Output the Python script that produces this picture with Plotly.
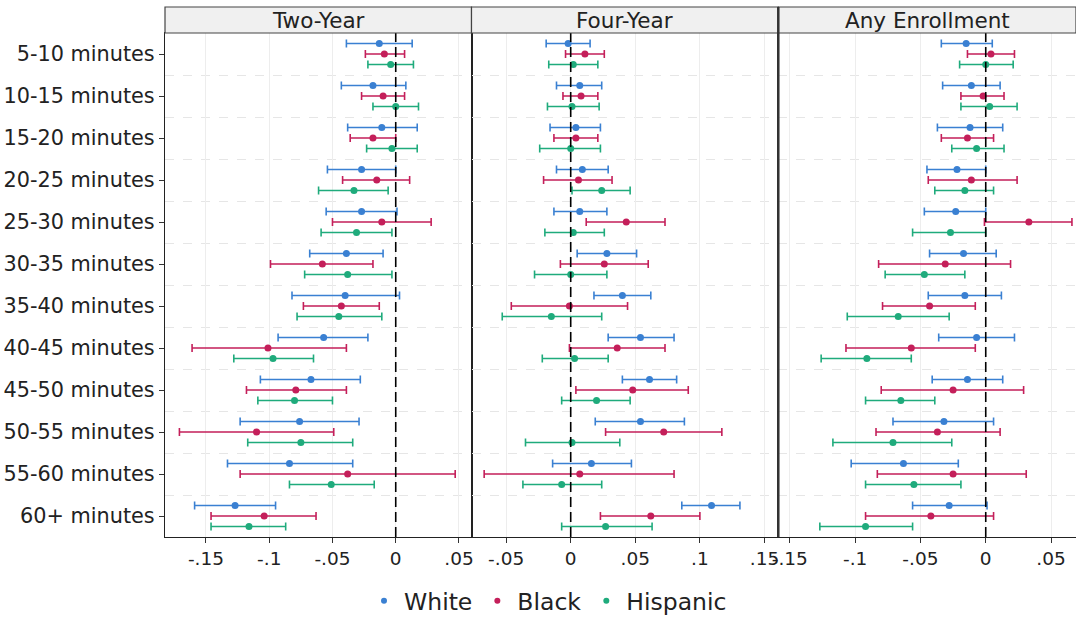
import numpy as np
import plotly.graph_objects as go
from plotly.subplots import make_subplots

categories = ["5-10 minutes", "10-15 minutes", "15-20 minutes", "20-25 minutes",
              "25-30 minutes", "30-35 minutes", "35-40 minutes", "40-45 minutes",
              "45-50 minutes", "50-55 minutes", "55-60 minutes", "60+ minutes"]
panels = ["Two-Year", "Four-Year", "Any Enrollment"]
groups = ["White", "Black", "Hispanic"]

# Two-Year
two_white_est = [-0.013, -0.018, -0.011, -0.027, -0.027, -0.039, -0.040, -0.057, -0.067, -0.076, -0.084, -0.127]
two_white_lo = [-0.039, -0.043, -0.038, -0.054, -0.055, -0.068, -0.082, -0.093, -0.107, -0.123, -0.133, -0.159]
two_white_hi = [0.013, 0.008, 0.017, 0.000, 0.001, -0.010, 0.003, -0.022, -0.028, -0.029, -0.034, -0.095]
two_black_est = [-0.009, -0.010, -0.018, -0.015, -0.011, -0.058, -0.043, -0.101, -0.079, -0.110, -0.038, -0.104]
two_black_lo = [-0.024, -0.027, -0.036, -0.042, -0.050, -0.099, -0.073, -0.161, -0.118, -0.171, -0.123, -0.146]
two_black_hi = [0.007, 0.007, 0.000, 0.011, 0.028, -0.018, -0.013, -0.039, -0.039, -0.049, 0.047, -0.063]
two_hisp_est = [-0.004, 0.000, -0.003, -0.033, -0.031, -0.038, -0.045, -0.097, -0.080, -0.075, -0.051, -0.116]
two_hisp_lo = [-0.022, -0.018, -0.023, -0.061, -0.059, -0.072, -0.078, -0.128, -0.109, -0.117, -0.084, -0.146]
two_hisp_hi = [0.014, 0.018, 0.017, -0.006, -0.003, -0.003, -0.011, -0.065, -0.050, -0.034, -0.017, -0.087]

# Four-Year
four_white_est = [-0.002, 0.007, 0.004, 0.009, 0.007, 0.028, 0.040, 0.054, 0.061, 0.054, 0.016, 0.109]
four_white_lo = [-0.019, -0.011, -0.016, -0.011, -0.013, 0.005, 0.018, 0.029, 0.040, 0.019, -0.014, 0.086]
four_white_hi = [0.015, 0.024, 0.023, 0.029, 0.028, 0.051, 0.062, 0.080, 0.082, 0.088, 0.047, 0.131]
four_black_est = [0.011, 0.008, 0.004, 0.006, 0.043, 0.026, -0.001, 0.036, 0.048, 0.072, 0.007, 0.062]
four_black_lo = [-0.004, -0.006, -0.013, -0.021, 0.012, -0.008, -0.046, -0.001, 0.004, 0.027, -0.067, 0.023]
four_black_hi = [0.026, 0.021, 0.021, 0.032, 0.073, 0.060, 0.044, 0.073, 0.091, 0.117, 0.080, 0.100]
four_hisp_est = [0.002, 0.001, 0.000, 0.024, 0.002, 0.000, -0.015, 0.003, 0.020, 0.001, -0.007, 0.027]
four_hisp_lo = [-0.017, -0.018, -0.024, 0.001, -0.020, -0.028, -0.053, -0.022, -0.007, -0.035, -0.037, -0.007]
four_hisp_hi = [0.021, 0.022, 0.023, 0.046, 0.026, 0.028, 0.024, 0.029, 0.046, 0.038, 0.024, 0.063]

# Any Enrollment
any_white_est = [-0.015, -0.011, -0.012, -0.022, -0.023, -0.017, -0.016, -0.007, -0.014, -0.032, -0.063, -0.028]
any_white_lo = [-0.034, -0.033, -0.037, -0.045, -0.047, -0.043, -0.044, -0.036, -0.041, -0.071, -0.103, -0.056]
any_white_hi = [0.005, 0.011, 0.013, 0.000, 0.000, 0.008, 0.012, 0.022, 0.013, 0.006, -0.021, 0.001]
any_black_est = [0.004, -0.002, -0.014, -0.011, 0.033, -0.031, -0.043, -0.057, -0.025, -0.037, -0.025, -0.042]
any_black_lo = [-0.014, -0.019, -0.034, -0.044, -0.001, -0.082, -0.079, -0.107, -0.080, -0.084, -0.083, -0.092]
any_black_hi = [0.022, 0.014, 0.006, 0.024, 0.066, 0.019, -0.008, -0.008, 0.029, 0.011, 0.031, 0.006]
any_hisp_est = [0.000, 0.003, -0.007, -0.016, -0.027, -0.047, -0.067, -0.091, -0.065, -0.071, -0.055, -0.092]
any_hisp_lo = [-0.020, -0.019, -0.026, -0.039, -0.056, -0.077, -0.106, -0.126, -0.092, -0.117, -0.092, -0.127]
any_hisp_hi = [0.021, 0.024, 0.014, 0.006, 0.000, -0.016, -0.028, -0.057, -0.039, -0.026, -0.019, -0.056]

x_tickvals = [[-0.15, -0.1, -0.05, 0, 0.05],
              [-0.05, 0, 0.05, 0.1, 0.15],
              [-0.15, -0.1, -0.05, 0, 0.05]]
x_ticktext = [["-.15", "-.1", "-.05", "0", ".05"],
              ["-.05", "0", ".05", ".1", ".15"],
              ["-.15", "-.1", "-.05", "0", ".05"]]

data = {
    0: [(two_white_est, two_white_lo, two_white_hi),
        (two_black_est, two_black_lo, two_black_hi),
        (two_hisp_est, two_hisp_lo, two_hisp_hi)],
    1: [(four_white_est, four_white_lo, four_white_hi),
        (four_black_est, four_black_lo, four_black_hi),
        (four_hisp_est, four_hisp_lo, four_hisp_hi)],
    2: [(any_white_est, any_white_lo, any_white_hi),
        (any_black_est, any_black_lo, any_black_hi),
        (any_hisp_est, any_hisp_lo, any_hisp_hi)],
}

colors = ["#3a80d2", "#c41f5a", "#1fab7c"]
offsets = [-0.25, 0.0, 0.25]
x_ranges = [[-0.1824, 0.0599], [-0.0768, 0.1607], [-0.1588, 0.0691]]

W, H = 1076, 618
L, R, T, B = 165, 0, 33, 81
plot_w = W - L - R
plot_h = H - T - B
bounds = [165, 471.5, 778.3, 1076]
domains = [[(bounds[i] - L) / plot_w, (bounds[i + 1] - L) / plot_w] for i in range(3)]

FONT = "DejaVu Sans"
fig = make_subplots(rows=1, cols=3, shared_yaxes=True, horizontal_spacing=0)

ypos = np.arange(len(categories))
for p in range(3):
    for g in range(3):
        est, lo, hi = (np.array(a) for a in data[p][g])
        fig.add_trace(go.Scatter(
            x=est, y=ypos + offsets[g], mode="markers",
            marker=dict(color=colors[g], size=7),
            error_x=dict(type="data", symmetric=False,
                         array=hi - est, arrayminus=est - lo,
                         color=colors[g], thickness=1.6, width=4),
            showlegend=False, name=groups[g], hoverinfo="x+y",
        ), row=1, col=p + 1)

# legend entries
for g in range(3):
    fig.add_trace(go.Scatter(x=[None], y=[None], mode="markers",
                             marker=dict(color=colors[g], size=6),
                             name=groups[g], showlegend=True), row=1, col=1)

for p in range(3):
    ax = "xaxis" if p == 0 else f"xaxis{p + 1}"
    fig.layout[ax].update(
        domain=domains[p], range=x_ranges[p], automargin=False,
        tickmode="array", tickvals=x_tickvals[p], ticktext=x_ticktext[p],
        ticks="outside", ticklen=5, tickcolor="#333", tickwidth=1,
        showgrid=True, gridcolor="#ededed", gridwidth=1,
        zeroline=False, showline=True, mirror=True, linecolor="#222", linewidth=1.3,
        tickfont=dict(family=FONT, size=18.5, color="#222"),
    )
    yax = "yaxis" if p == 0 else f"yaxis{p + 1}"
    fig.layout[yax].update(
        range=[11.5, -0.5], tickmode="array", tickvals=list(ypos), automargin=False,
        ticktext=categories if p == 0 else None,
        showticklabels=(p == 0),
        ticks="outside" if p == 0 else "", ticklen=5, tickcolor="#333",
        showgrid=False, zeroline=False,
        showline=True, mirror=True, linecolor="#222", linewidth=1.3,
        tickfont=dict(family=FONT, size=20.8, color="#222"),
        minor=dict(tickvals=list(ypos[:-1] + 0.5), showgrid=True,
                   gridcolor="#e6e6e6", griddash="dash", gridwidth=1, ticklen=0),
    )
    # dashed zero line
    xref = "x" if p == 0 else f"x{p + 1}"
    yref = "y" if p == 0 else f"y{p + 1}"
    fig.add_shape(type="line", xref=xref, yref=f"{yref} domain",
                  x0=0, x1=0, y0=0, y1=1,
                  line=dict(color="black", width=1.6, dash="10px,5px"))
    # strip header
    fig.add_shape(type="rect", xref="paper", yref="paper",
                  x0=domains[p][0], x1=domains[p][1], y0=1, y1=1 + 26 / plot_h,
                  fillcolor="#f0f0f0", line=dict(color="#444", width=1.2), layer="above")
    fig.add_annotation(text=panels[p], xref="paper", yref="paper",
                       x=(domains[p][0] + domains[p][1]) / 2, y=1 + 13 / plot_h,
                       xanchor="center", yanchor="middle", showarrow=False,
                       font=dict(family=FONT, size=21.5, color="#222"))

# thicker divider between panel 2 and 3
fig.add_shape(type="line", xref="paper", yref="paper", x0=domains[2][0], x1=domains[2][0],
              y0=0, y1=1 + 26 / plot_h, line=dict(color="#333", width=2.5))

fig.update_layout(
    width=W, height=H,
    margin=dict(l=L, r=R, t=T, b=B, pad=0, autoexpand=False),
    paper_bgcolor="white", plot_bgcolor="white",
    font=dict(family=FONT, color="#222"),
    legend=dict(orientation="h", xref="container", yref="container",
                x=548 / W, xanchor="center", y=1 - 601 / H, yanchor="middle",
                font=dict(family=FONT, size=23.5, color="#222"),
                itemwidth=30, bgcolor="rgba(0,0,0,0)"),
)

fig.write_html("out.html", config={"displayModeBar": False},
               post_script="document.body.style.margin='0';document.body.style.overflow='hidden';")
